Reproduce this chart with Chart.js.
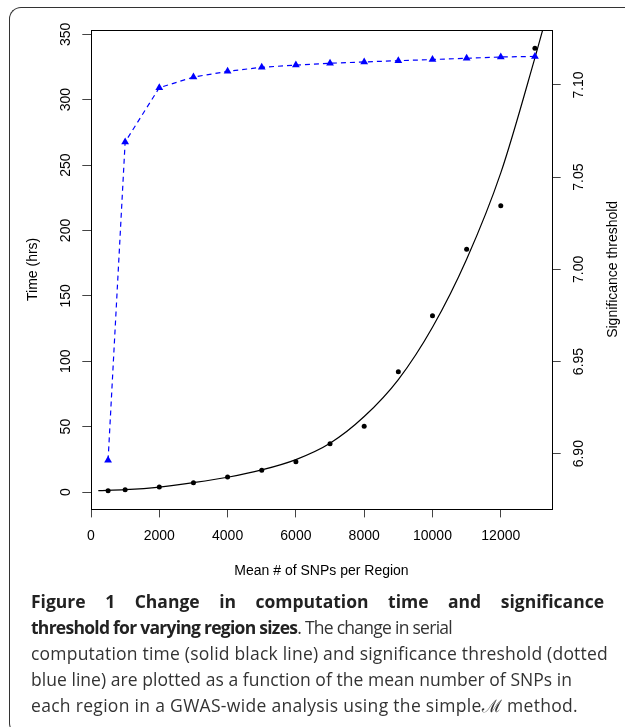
<!DOCTYPE html>
<html>
<head>
<meta charset="utf-8">
<script src="https://cdn.jsdelivr.net/npm/chart.js@4.4.0/dist/chart.umd.min.js"></script>
<style>
  html, body { margin: 0; padding: 0; background: #fff; }
  body { width: 625px; height: 727px; position: relative; overflow: hidden; }
  #frame {
    position: absolute; left: 9px; top: 7px; width: 700px; height: 726px;
    border-top: 1px solid #333; border-left: 1px solid #333; border-bottom: 1px solid #333;
    border-top-left-radius: 12px; border-bottom-left-radius: 12px;
  }
  #chart { position: absolute; left: 0; top: 0; }
  #caption {
    position: absolute; left: 31px; top: 588px;
    font-family: "Open Sans", "Noto Sans", sans-serif; font-size: 17.5px; color: #333;
  }
  #caption .line { height: 26px; line-height: 26px; white-space: nowrap; }
  #caption b { color: #222; font-weight: 700; }
</style>
</head>
<body>
<div id="frame"></div>
<canvas id="chart" width="625" height="590"></canvas>
<div id="caption">
  <div class="line"><span><b>Figure 1 Change in computation time and significance</b></span></div>
  <div class="line"><span><b>threshold for varying region sizes</b>. The change in serial</span></div>
  <div class="line"><span>computation time (solid black line) and significance threshold (dotted</span></div>
  <div class="line"><span>blue line) are plotted as a function of the mean number of SNPs in</span></div>
  <div class="line"><span>each region in a GWAS-wide analysis using the simple<i>ℳ</i> method.</span></div>
</div>
<script>
// mean # of SNPs per region (x)
const snpsPerRegion = [500, 1000, 2000, 3000, 4000, 5000, 6000, 7000, 8000, 9000, 10000, 11000, 12000, 13000];
// serial computation time, hrs (black dots)
const timeHrs = [1.0, 1.8, 3.8, 7.1, 11.5, 16.6, 23.2, 36.9, 50.2, 92.0, 134.8, 185.6, 218.9, 339.4];
// significance threshold (blue triangles, right axis)
const threshold = [6.8964, 7.0691, 7.0985, 7.1043, 7.1074, 7.1096, 7.1108, 7.1118, 7.1125, 7.1132, 7.1138, 7.1145, 7.1152, 7.1155];
// fitted curve
const fitSnps = [214, 1000, 2000, 3000, 4000, 5000, 6000, 7000, 8000, 9000, 10000, 11000, 12000, 13000, 13226];
const fitTime = [1.0, 1.8, 3.8, 7.2, 11.3, 16.9, 24.8, 37.3, 57.7, 86, 126, 178, 244, 332, 353.2];

const xTicks = [0, 2000, 4000, 6000, 8000, 10000, 12000];
const timeTicks = [0, 50, 100, 150, 200, 250, 300, 350];
const thresholdTicks = [6.90, 6.95, 7.00, 7.05, 7.10];

const zip = (xs, ys) => xs.map((x, i) => ({ x, y: ys[i] }));

const font = { family: '"Liberation Sans", Arial, sans-serif', size: 14 };
const tickMarks = { drawOnChartArea: false, drawTicks: true, tickLength: 8.7, color: '#444', lineWidth: 1 };

// R-style box around the plot region
const plotBox = {
    id: 'plotBox',
    afterDraw(chart) {
        const { ctx, chartArea: a } = chart;
        ctx.save();
        ctx.strokeStyle = '#000';
        ctx.lineWidth = 1;
        ctx.strokeRect(Math.round(a.left) + 0.5, Math.round(a.top) + 0.5,
            Math.round(a.right - a.left), Math.round(a.bottom - a.top));
        ctx.restore();
    },
};

// axis titles, all reading bottom-to-top like the original
const axisTitles = {
    id: 'axisTitles',
    afterDraw(chart) {
        const { ctx, chartArea: a } = chart;
        const midY = (a.top + a.bottom) / 2;
        ctx.save();
        ctx.fillStyle = '#000';
        ctx.font = `${font.size}px ${font.family}`;
        ctx.textAlign = 'center';
        ctx.textBaseline = 'alphabetic';
        ctx.fillText('Mean # of SNPs per Region', (a.left + a.right) / 2, 575);
        [['Time (hrs)', 36.7], ['Significance threshold', 617]].forEach(([text, x]) => {
            ctx.save();
            ctx.translate(x, midY);
            ctx.rotate(-Math.PI / 2);
            ctx.fillText(text, 0, 0);
            ctx.restore();
        });
        ctx.restore();
    },
};

new Chart(document.getElementById('chart'), {
    type: 'scatter',
    data: {
        datasets: [
            {
                label: 'Significance threshold',
                type: 'line',
                yAxisID: 'y2',
                data: zip(snpsPerRegion, threshold),
                borderColor: '#0000ff',
                borderWidth: 1.2,
                borderDash: [5, 4],
                pointStyle: 'triangle',
                pointRadius: 4.5,
                pointBackgroundColor: '#0000ff',
                pointBorderWidth: 0,
                tension: 0,
                order: 0,
            },
            {
                label: 'Time (hrs)',
                yAxisID: 'y',
                data: zip(snpsPerRegion, timeHrs),
                pointRadius: 2.5,
                pointBackgroundColor: '#000',
                pointBorderWidth: 0,
                showLine: false,
                order: 1,
            },
            {
                label: 'Fit',
                type: 'line',
                yAxisID: 'y',
                data: zip(fitSnps, fitTime),
                borderColor: '#000',
                borderWidth: 1.2,
                pointRadius: 0,
                cubicInterpolationMode: 'monotone',
                order: 2,
            },
        ],
    },
    options: {
        responsive: false,
        animation: false,
        layout: { padding: { top: 30, left: 0, right: 0, bottom: 0 } },
        plugins: { legend: { display: false }, tooltip: { enabled: false } },
        scales: {
            x: {
                type: 'linear',
                min: 0,
                max: 13500,
                afterBuildTicks: (s) => { s.ticks = xTicks.map(v => ({ value: v })); },
                afterFit: (s) => { s.height = 81.3; },
                grid: tickMarks,
                border: { display: false },
                ticks: { font, color: '#000', padding: 10, minRotation: 0, maxRotation: 0, callback: v => String(v) },
            },
            y: {
                position: 'left',
                min: -12.77,
                max: 353.29,
                afterBuildTicks: (s) => { s.ticks = timeTicks.map(v => ({ value: v })); },
                afterFit: (s) => { s.width = 91; },
                grid: tickMarks,
                border: { display: false },
                ticks: { font, color: '#000', padding: 4.8, minRotation: 90, maxRotation: 90, crossAlign: 'center', callback: v => String(v) },
            },
            y2: {
                position: 'right',
                min: 6.87017,
                max: 7.12983,
                afterBuildTicks: (s) => { s.ticks = thresholdTicks.map(v => ({ value: v })); },
                afterFit: (s) => { s.width = 73; },
                grid: tickMarks,
                border: { display: false },
                ticks: { font, color: '#000', padding: 4.7, minRotation: 90, maxRotation: 90, crossAlign: 'center', callback: v => v.toFixed(2) },
            },
        },
    },
    plugins: [plotBox, axisTitles],
});

// stretch caption lines to the widths of the original:
// the bold first line is justified, the others get a little letter spacing
const captionLeft = 31;
const captionRight = [604, 452, 608, 572, 578];
document.querySelectorAll('#caption .line').forEach((el, i) => {
    const span = el.firstElementChild;
    const w = span.getBoundingClientRect().width;
    const text = span.textContent;
    const extra = captionRight[i] - captionLeft - w;
    if (i === 0) {
        el.style.wordSpacing = (extra / (text.split(' ').length - 1)) + 'px';
    } else {
        el.style.letterSpacing = (extra / text.length) + 'px';
    }
});
</script>
</body>
</html>
